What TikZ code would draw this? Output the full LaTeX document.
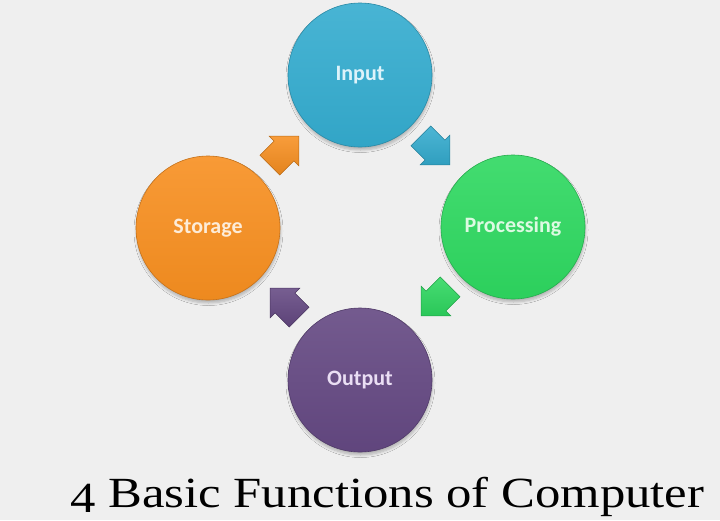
\documentclass[tikz,border=0pt]{standalone}
\usepackage{fontspec}
\setmainfont{Liberation Serif}
\newfontfamily\carlito{Carlito}
\usetikzlibrary{shadows.blur}
\definecolor{bg}{RGB}{239,239,239}
\definecolor{inc}{RGB}{52,172,207}
\definecolor{procc}{RGB}{46,216,96}
\definecolor{outc}{RGB}{100,72,130}
\definecolor{storc}{RGB}{247,143,32}
\definecolor{intx}{RGB}{222,243,250}
\definecolor{proctx}{RGB}{220,250,226}
\definecolor{outtx}{RGB}{234,222,244}
\definecolor{stortx}{RGB}{253,236,216}
\tikzset{
  ball/.style={circle, minimum size=144pt, inner sep=0pt,
    blur shadow={shadow blur steps=6, shadow xshift=0.5pt, shadow yshift=-3pt, shadow opacity=25, shadow blur radius=2.5pt},
    top color=#1!90!white, bottom color=#1!96!black, draw=#1!80!black, line width=0.6pt,
    font=\carlito\bfseries\fontsize{22}{25}\selectfont},
  blockarrow/.pic={\path[pic actions] (-20,-14) -- (0,-14) -- (0,-21) -- (21,0) -- (0,21) -- (0,14) -- (-20,14) -- cycle;},
  arr/.style={top color=#1!88!white, bottom color=#1!92!black, draw=#1!75!black, line width=0.5pt,
    blur shadow={shadow blur steps=4, shadow xshift=0.5pt, shadow yshift=-1.5pt, shadow opacity=30, shadow blur radius=2pt}}
}
\begin{document}
\begin{tikzpicture}[x=1pt,y=-1pt]
\fill[bg] (0,0) rectangle (720,520);
\useasboundingbox (0,0) rectangle (720,520);
\node[ball=inc, text=intx] (input) at (360,75) {Input};
\node[ball=procc, text=proctx] (processing) at (513,227) {Processing};
\node[ball=outc, text=outtx] (output) at (360,380) {Output};
\node[ball=storc, text=stortx] (storage) at (208,228) {Storage};
\pic (a1) [arr=inc, rotate=-45] at (435,150) {blockarrow};
\pic (a2) [arr=procc, rotate=-135] at (436,301) {blockarrow};
\pic (a3) [arr=outc, rotate=135] at (285,303) {blockarrow};
\pic (a4) [arr=storc, rotate=45] at (284,151) {blockarrow};
\node[anchor=base west, inner sep=0pt, font=\fontsize{43}{47}\selectfont] (title) at (70,507) {\scalebox{1.18}[1]{\raisebox{-5pt}{4} Basic Functions of Computer}};
\end{tikzpicture}
\end{document}
